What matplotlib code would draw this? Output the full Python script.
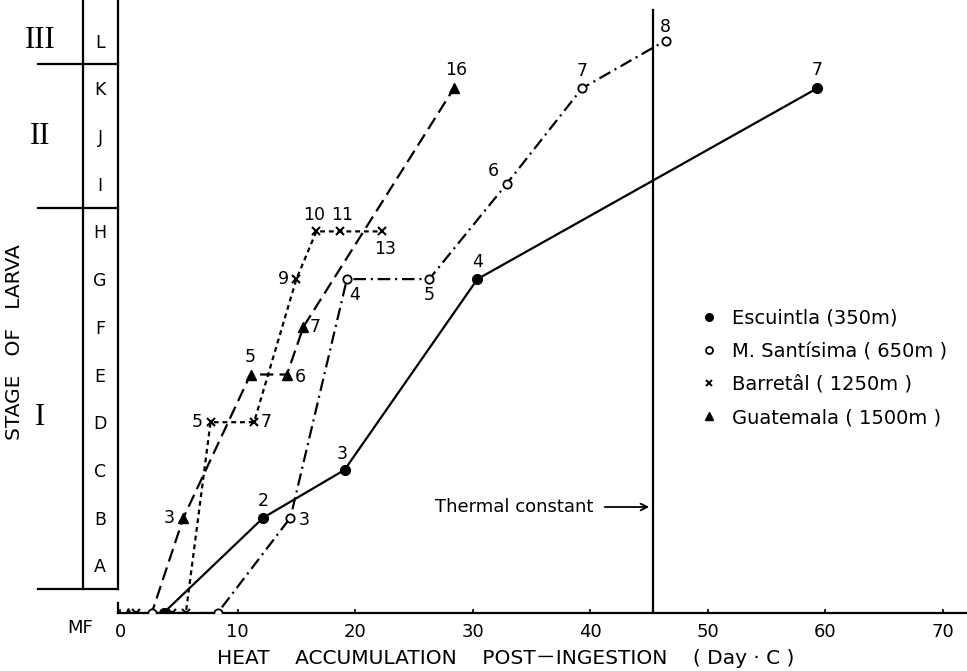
import matplotlib
matplotlib.use("Agg")
import matplotlib.pyplot as plt
from matplotlib.lines import Line2D

plt.rcParams['font.family'] = ['DejaVu Sans', 'Noto Sans CJK JP']
plt.rcParams['lines.scale_dashes'] = False

# ---------------- data ----------------
stage_letters = ['A', 'B', 'C', 'D', 'E', 'F', 'G', 'H', 'I', 'J', 'K', 'L']
x_ticks = [0, 10, 20, 30, 40, 50, 60, 70]
thermal_constant = 45.3

esc_x = [3.7, 12.2, 19.1, 30.4, 59.3]
esc_y = [0, 2, 3, 7, 11]
esc_lab = ['', '2', '3', '4', '7']

san_x = [2.7, 8.3, 14.5, 19.3, 26.3, 32.9, 39.3, 46.4]
san_y = [0, 0, 2, 7, 7, 9, 11, 12]
san_lab = ['', '', '3', '4', '5', '6', '7', '8']

bar_x = [1.4, 4.4, 5.6, 7.7, 11.4, 15.0, 16.7, 18.7, 22.3]
bar_y = [0, 0, 0, 4, 4, 7, 8, 8, 8]
bar_lab = ['', '', '', '5', '7', '9', '10', '11', '13']

gua_x = [0.7, 2.7, 5.4, 11.1, 14.2, 15.6, 28.4]
gua_y = [0, 0, 2, 5, 5, 6, 11]
gua_lab = ['', '', '3', '5', '6', '7', '16']

legend_names = ['Escuintla (350m)', 'M. Santísima ( 650m )',
                'Barretâl ( 1250m )', 'Guatemala ( 1500m )']

# label offsets (pixels) for point numbers
esc_off = [(0, 0), (0, 17), (-2, 16), (0, 17), (0, 18)]
san_off = [(0, 0), (0, 0), (14, -2), (8, -16), (0, -16), (-13, 13), (0, 17), (0, 14)]
bar_off = [(0, 0), (0, 0), (0, 0), (-13, 0), (12, 0), (-13, 0), (-2, 16), (2, 16), (3, -18)]
gua_off = [(0, 0), (0, 0), (-14, 0), (0, 17), (13, -2), (12, 0), (2, 18)]

# ---------------- figure ----------------
W, H = 967, 671
fig = plt.figure(figsize=(W / 100, H / 100), dpi=100)
px_x0, px_base = 118, 613
ax = fig.add_axes([px_x0 / W, (H - px_base) / H, (W - px_x0) / W, px_base / H])
ppu_x = 823 / 70.0
ppu_y = 47.7
x_left = (px_x0 - 120) / ppu_x
x_right = (W - 120) / ppu_x
y_top = px_base / ppu_y
ax.set_xlim(x_left, x_right)
ax.set_ylim(0, y_top)

for s in ['top', 'right']:
    ax.spines[s].set_visible(False)
ax.spines['left'].set_bounds(0.5, y_top)
ax.spines['left'].set_linewidth(1.6)
ax.spines['bottom'].set_linewidth(1.6)
ax.plot([x_left, x_left], [0, 0.2], color='black', lw=1.6, clip_on=False)

ax.set_xticks(x_ticks)
ax.set_xticklabels([str(t) for t in x_ticks])
ax.tick_params(axis='x', direction='in', length=3, width=1.2, pad=7, labelsize=13)

ax.set_yticks(range(1, 13))
ax.set_yticklabels(stage_letters)
ax.tick_params(axis='y', length=0, pad=13, labelsize=12.5)
for lbl in ax.get_yticklabels():
    lbl.set_ha('center')

ax.set_xlabel('HEAT    ACCUMULATION    POST－INGESTION    ( Day · C )', fontsize=14.5)
ax.xaxis.set_label_coords((506 - px_x0) / (W - px_x0), -(658 - px_base) / px_base)
ax.xaxis.label.set_va('center')
ax.set_ylabel('STAGE   OF   LARVA', fontsize=14.5)
ax.yaxis.set_label_coords((15 - px_x0) / (W - px_x0), (px_base - 342) / px_base)
ax.yaxis.label.set_va('center')

# left stage panel
xa = (38 - 120) / ppu_x
xb = (83 - 120) / ppu_x
for yy in [11.5, 8.5, 0.5]:
    ax.plot([xa, x_left], [yy, yy], color='black', lw=1.6, clip_on=False)
ax.plot([xb, xb], [0.5, y_top], color='black', lw=1.6, clip_on=False)
ax.text((80 - 120) / ppu_x, -0.31, 'MF', ha='center', va='center', fontsize=13, clip_on=False)
rx = (40 - 120) / ppu_x
for txt, yy in [('III', 12), ('II', 10), ('I', 4.1)]:
    ax.text(rx, yy, txt, ha='center', va='center', fontsize=22,
            family=['Liberation Serif', 'DejaVu Serif'], clip_on=False)

# thermal constant
ax.plot([thermal_constant, thermal_constant], [0, (px_base - 10) / ppu_y], color='black', lw=1.6)
ty = (px_base - 507) / ppu_y
ax.annotate('', xy=(thermal_constant - 0.05, ty), xytext=((602 - 120) / ppu_x, ty),
            arrowprops=dict(arrowstyle='->', lw=1.3, color='black', mutation_scale=12))
ax.text((593 - 120) / ppu_x, ty, 'Thermal constant', ha='right', va='center', fontsize=13)

# series
lw = 1.6
ax.plot(esc_x, esc_y, color='black', lw=lw, linestyle='-', marker='o', ms=7,
        mfc='black', mec='black', zorder=3)
ax.plot(san_x, san_y, color='black', lw=lw, linestyle=(0, (9, 3.5, 1.5, 3.5)), marker='o',
        ms=6, mfc='white', mec='black', mew=1.3, zorder=4)
ax.plot(bar_x, bar_y, color='black', lw=lw, linestyle=(0, (3.5, 2.8)), marker='x',
        ms=6, mec='black', mew=1.5, zorder=3)
ax.plot(gua_x, gua_y, color='black', lw=lw, linestyle=(0, (9.5, 4.5)), marker='^',
        ms=7, mfc='black', mec='black', zorder=3)

for xs, ys, labs, offs in [(esc_x, esc_y, esc_lab, esc_off), (san_x, san_y, san_lab, san_off),
                           (bar_x, bar_y, bar_lab, bar_off), (gua_x, gua_y, gua_lab, gua_off)]:
    for xv, yv, lb, off in zip(xs, ys, labs, offs):
        if lb:
            ax.annotate(lb, (xv, yv), xytext=off, textcoords='offset pixels',
                        ha='center', va='center', fontsize=12.5)

handles = [
    Line2D([], [], linestyle='none', marker='o', ms=5.5, mfc='black', mec='black'),
    Line2D([], [], linestyle='none', marker='o', ms=5, mfc='white', mec='black', mew=1.3),
    Line2D([], [], linestyle='none', marker='x', ms=5, mec='black', mew=1.4),
    Line2D([], [], linestyle='none', marker='^', ms=5.5, mfc='black', mec='black'),
]
ax.legend(handles, legend_names, loc='upper left', bbox_to_anchor=(703 / W, (H - 309) / H),
          bbox_transform=fig.transFigure, frameon=False, fontsize=14, borderpad=0,
          borderaxespad=0, handlelength=0.6, handletextpad=0.9, labelspacing=0.72)

fig.savefig('out.png', dpi=100)
